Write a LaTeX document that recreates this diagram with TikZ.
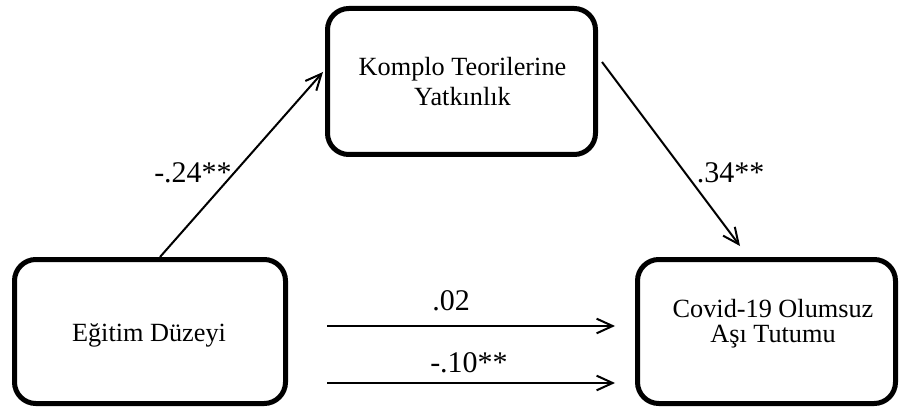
\documentclass[tikz,border=0pt]{standalone}
\usepackage{fontspec}
\setmainfont{Liberation Serif}
\usetikzlibrary{arrows.meta}
\begin{document}
\begin{tikzpicture}[x=0.75pt,y=-0.75pt,
  box/.style={draw, line width=3.75pt, rounded corners=16pt, inner sep=0pt},
  boxtext/.style={font=\fontsize{19.7}{22.5}\selectfont, align=center, inner sep=0pt},
  coef/.style={font=\fontsize{22.5}{27}\selectfont, inner sep=0pt, anchor=base},
  link/.style={line width=1.5pt, -{Straight Barb[length=12pt,width=11pt,line width=1.5pt]}}]

\useasboundingbox (0,0) rectangle (901,410);

% variable boxes
\node[box, minimum width=203.25pt, minimum height=108pt] (b1) at (150,331.5) {};
\node[box, minimum width=201pt, minimum height=109.5pt] (b2) at (461.5,81.5) {};
\node[box, minimum width=193.5pt, minimum height=108pt] (b3) at (766.5,331.5) {};

% box captions
\node[boxtext] (t1) at (149,335.5) {Eğitim Düzeyi};
\node[boxtext] (t2) at (462.5,82) {Komplo Teorilerine\\Yatkınlık};
\node[boxtext, font=\fontsize{19.7}{18.75}\selectfont] (t3) at (773,324) {Covid-19 Olumsuz\\Aşı Tutumu};

% free ends of the direct-effect arrows
\coordinate (h1s) at ([shift={(39,-5.5)}]b1.east);
\coordinate (h1e) at ([shift={(-20,-5.5)}]b3.west);
\coordinate (h2s) at ([shift={(39,51.5)}]b1.east);
\coordinate (h2e) at ([shift={(-20,51.5)}]b3.west);

% paths
\draw[link] ([shift={(10,0)}]b1.north) -- ([shift={(-2,-9.5)}]b2.west);
\draw[link] ([shift={(4,-19.5)}]b2.east) -- ([shift={(-26.5,-11)}]b3.north);
\draw[link] (h1s) -- (h1e);
\draw[link] (h2s) -- (h2e);

% coefficients
\node[coef] (c1) at (193,182) {-.24**};
\node[coef] (c2) at (730.5,182) {.34**};
\node[coef] (c3) at (451,310) {.02};
\node[coef] (c4) at (469,372) {-.10**};
\end{tikzpicture}
\end{document}
